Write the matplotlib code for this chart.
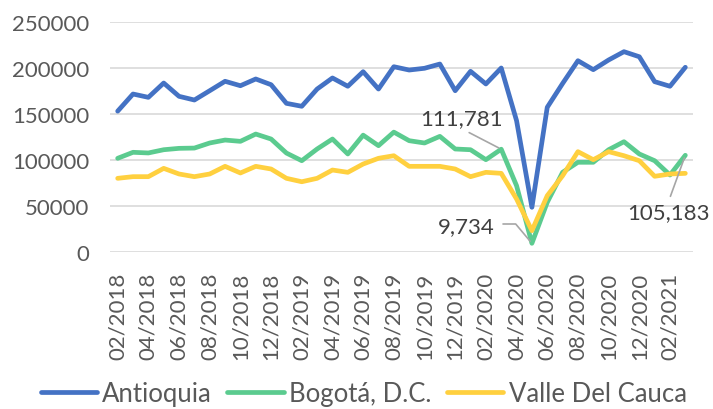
import matplotlib
matplotlib.use("Agg")
import matplotlib.pyplot as plt

months = ["02/2018","03/2018","04/2018","05/2018","06/2018","07/2018","08/2018","09/2018","10/2018","11/2018","12/2018",
          "01/2019","02/2019","03/2019","04/2019","05/2019","06/2019","07/2019","08/2019","09/2019","10/2019","11/2019","12/2019",
          "01/2020","02/2020","03/2020","04/2020","05/2020","06/2020","07/2020","08/2020","09/2020","10/2020","11/2020","12/2020",
          "01/2021","02/2021","03/2021"]

antioquia = [153000,171600,168000,183500,169100,165100,175200,185400,180600,187900,181700,161500,158300,177000,189000,180000,
             195800,177000,201200,197600,199500,204100,175200,196200,182500,199800,142700,48800,157200,183000,207700,198000,
             208500,217500,212000,185000,180000,200600]
bogota = [101900,108400,107700,111200,112700,113000,118500,121700,120300,128200,122800,107600,99300,112000,122800,106600,
          127000,115600,130300,121000,118500,125700,112000,111200,100400,111781,72200,9734,54200,86700,97600,97600,
          111200,119900,106600,99300,83800,105183]
valle = [80200,82000,82000,91000,84900,82000,84900,93200,86000,93200,90300,80200,76500,80200,89200,86700,
         95700,101900,104700,93200,93200,93200,90300,82000,86700,85600,57800,23400,61400,83000,109100,100400,
         109100,104700,99300,82400,84900,85600]

series_names = ["Antioquia", "Bogotá, D.C.", "Valle Del Cauca"]
colors = ["#4472C4", "#5BCB8F", "#FFD03F"]

plt.rcParams['font.family'] = ['Lato', 'DejaVu Sans']

fig = plt.figure(figsize=(7.13, 4.10), dpi=100)
ax = fig.add_axes([110/713, 1-253.3/410, 583/713, (253.3-22.7)/410])

x = list(range(len(months)))
for vals, name, c in zip([antioquia, bogota, valle], series_names, colors):
    ax.plot(x, vals, color=c, lw=3.4, label=name, solid_joinstyle='round', solid_capstyle='round')

ax.set_xlim(-0.5, len(months) - 0.5)
ax.set_ylim(0, 250000)
ax.set_yticks(range(0, 250001, 50000))
ax.set_yticklabels([str(v) for v in range(0, 250001, 50000)])
ax.set_xticks(x[::2])
ax.set_xticklabels(months[::2], rotation=90)
ax.tick_params(axis='both', length=0, labelsize=16, colors='#595959')
ax.tick_params(axis='y', pad=15)
ax.tick_params(axis='x', pad=14)
for s in ax.spines.values():
    s.set_visible(False)
ax.grid(axis='y', color='#D9D9D9', lw=1.2)
ax.set_axisbelow(True)

ann_color = '#404040'
ax.annotate(f"{bogota[25]:,}", xy=(25, bogota[25]), xytext=(22.4, 145000), textcoords='data',
            ha='center', va='center', fontsize=16, color=ann_color,
            arrowprops=dict(arrowstyle='-', color='#A6A6A6', lw=1.2, shrinkA=2, shrinkB=2, relpos=(0.5, 0)))
ax.annotate(f"{bogota[27]:,}", xy=(27, bogota[27]), xytext=(495, 410-226.7), textcoords='figure pixels',
            ha='right', va='center', fontsize=16, color=ann_color)
ax.annotate("", xy=(27, bogota[27]), xytext=(503, 410-225), textcoords='figure pixels',
            arrowprops=dict(arrowstyle='-', color='#A6A6A6', lw=1.2, shrinkA=0, shrinkB=2,
                            connectionstyle='angle,angleA=0,angleB=-50,rad=0'))
ax.annotate(f"{bogota[37]:,}", xy=(37, bogota[37]), xytext=(35.9, 44000), textcoords='data',
            ha='center', va='center', fontsize=16, color=ann_color,
            arrowprops=dict(arrowstyle='-', color='#A6A6A6', lw=1.2, shrinkA=2, shrinkB=2, relpos=(0.5, 1)))

fig.legend(loc='lower center', bbox_to_anchor=(0.51, -0.05), ncol=3, frameon=False, fontsize=18.5,
           handlelength=2.2, handletextpad=0.2, columnspacing=0.6, labelcolor='#595959')

fig.savefig("out.png", dpi=100)
